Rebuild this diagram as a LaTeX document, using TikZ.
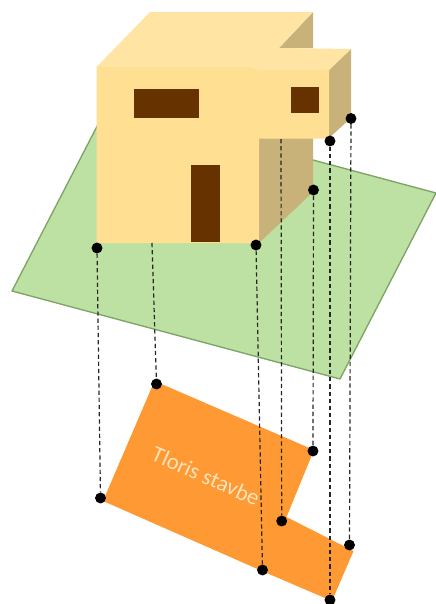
\documentclass[tikz,border=0pt]{standalone}
\usepackage{fontspec}
\setmainfont{Carlito}
\definecolor{planeFill}{HTML}{BDE1A2}
\definecolor{planeEdge}{HTML}{7DA365}
\definecolor{wallFront}{HTML}{FFDF91}
\definecolor{wallTop}{HTML}{FFE4A3}
\definecolor{wallSide}{HTML}{C9B27A}
\definecolor{opening}{HTML}{663300}
\definecolor{plan}{HTML}{FF9933}
\definecolor{planText}{HTML}{FFE3BC}
\tikzset{
  x=0.75pt, y=-0.75pt,
  plane/.style={fill=planeFill, draw=planeEdge, line width=1pt, line join=round},
  front/.style={fill=wallFront},
  roof/.style={fill=wallTop},
  side/.style={fill=wallSide},
  hole/.style={fill=opening},
  footprint/.style={fill=plan},
  dot/.style={circle, fill=black, inner sep=0pt, minimum size=8.2pt},
  drop/.style={draw=black!85, line width=0.9pt, dash pattern=on 3.2pt off 2.2pt},
  caption/.style={text=planText, font=\fontsize{17pt}{20pt}\selectfont, rotate=-24, inner sep=0pt}
}
\begin{document}
\begin{tikzpicture}
\useasboundingbox (0,0) rectangle (436,604);
% ground plane
\draw[plane] (108,105) -- (436,193) -- (340,379) -- (12,291) -- cycle;
% house
\fill[side] (279,48) -- (313,12) -- (313,48) -- cycle;
\fill[side] (259,138) -- (313,138) -- (313,192) -- (259,243) -- cycle;
\fill[side] (329,70) -- (351,49) -- (351,118) -- (329,138) -- cycle;
\fill[roof] (96.5,67) -- (150,12) -- (313,12) -- (279,48) -- (351,49) -- (329,70) -- (250,70) -- cycle;
\fill[front] (96.5,67) -- (250,67) -- (260,70) -- (329,70) -- (329,138.5) -- (259,138.5) -- (259,243) -- (96.5,243) -- cycle;
\fill[hole] (134,89) rectangle (199,118);
\fill[hole] (291,87) rectangle (319,112.5);
\fill[hole] (191,165) rectangle (220,241.5);
% footprint
\fill[footprint] (154.5,381) -- (314,450) -- (286.5,517) -- (353.5,551) -- (332,601) -- (262,571) -- (103,501) -- cycle;
\node[caption] (label) at (206,476) {Tloris stavbe};
% upper points
\node[dot] (a) at (97,248) {};
\coordinate (b) at (152,243);
\node[dot] (c) at (256,245) {};
\coordinate (d) at (281,139);
\node[dot] (e) at (313.5,190) {};
\node[dot] (f) at (330,141) {};
\node[dot] (g) at (351,118.5) {};
% lower points
\node[dot] (a2) at (100.5,498) {};
\node[dot] (b2) at (156.5,384) {};
\node[dot] (c2) at (262.5,570) {};
\node[dot] (d2) at (281.7,521) {};
\node[dot] (e2) at (313,451) {};
\node[dot] (f2) at (330,600) {};
\node[dot] (g2) at (349.5,545) {};
% projection lines
\draw[drop] (a) -- (a2);
\draw[drop] (b) -- (b2);
\draw[drop] (c) -- (c2);
\draw[drop] (d) -- (d2);
\draw[drop] (e) -- (e2);
\draw[drop] (f) -- (f2);
\draw[drop] (g) -- (g2);
\end{tikzpicture}
\end{document}
